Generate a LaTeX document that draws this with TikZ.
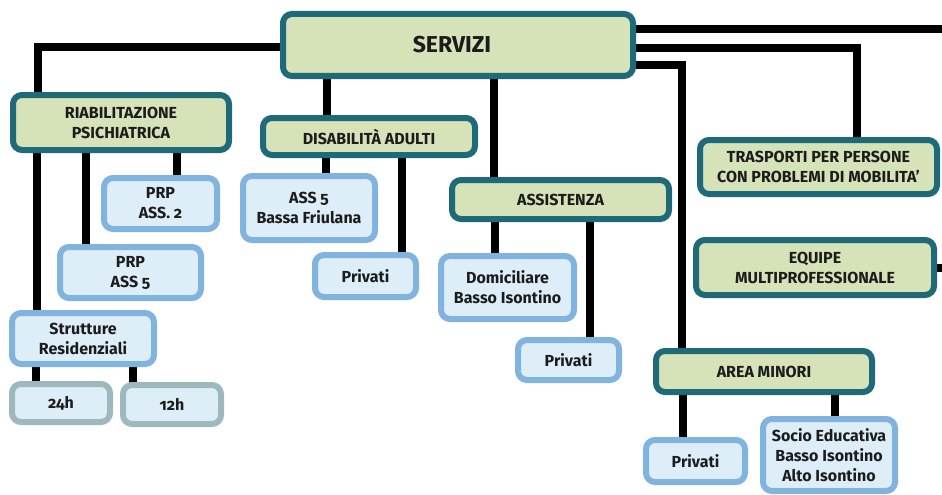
\documentclass[tikz,border=0pt]{standalone}
\usepackage{fontspec}
\setmainfont{Fira Sans}[Numbers=OldStyle]
\usetikzlibrary{backgrounds}
\definecolor{tealb}{HTML}{1E6A78}
\definecolor{greenf}{HTML}{D6E2B8}
\definecolor{blueb}{HTML}{80B3DD}
\definecolor{bluef}{HTML}{DEEEF9}
\definecolor{greyb}{HTML}{9DB9BE}
\definecolor{txt}{HTML}{1C1C1C}
\tikzset{
  base/.style={rectangle, rounded corners=9pt, line width=6pt, outer sep=0pt, inner sep=0pt, align=center, text=txt, font=\bfseries\fontsize{16}{20}\selectfont},
  gbox/.style={base, draw=tealb, fill=greenf},
  bbox/.style={base, draw=blueb, fill=bluef},
  ybox/.style={base, draw=greyb, fill=bluef},
  conn/.style={line width=8pt, draw=black},
}
\newcommand{\bx}[7]{\node[#1, minimum width=#5pt-6pt, minimum height=#6pt-6pt] (#2) at (#3,#4) {#7};}
\begin{document}
\begin{tikzpicture}[x=1pt,y=-1pt]
\useasboundingbox (0,0) rectangle (942,495);
% green boxes
\bx{gbox}{serv}{458}{45}{356}{68}{\fontsize{23}{26}\selectfont\hspace*{-12pt}\raisebox{-4pt}{SERVIZI}}
\bx{gbox}{riab}{121}{122.5}{222}{61}{RIABILITAZIONE\\PSICHIATRICA}
\bx{gbox}{disab}{369}{136.5}{218}{43}{DISABILITÀ ADULTI}
\bx{gbox}{assist}{560.5}{199.5}{223}{45}{ASSISTENZA}
\bx{gbox}{trasp}{818.5}{167}{243}{60}{TRASPORTI PER PERSONE\\CON PROBLEMI DI MOBILITA’}
\bx{gbox}{equipe}{815}{267.5}{244}{61}{EQUIPE\\MULTIPROFESSIONALE}
\bx{gbox}{minori}{764}{371.5}{222}{47}{AREA MINORI}
% blue boxes
\bx{bbox}{prp2}{160.5}{203.5}{119}{57}{PRP\\ASS. 2}
\bx{bbox}{prp5}{130.5}{272.5}{147}{57}{PRP\\ASS 5}
\bx{bbox}{strutt}{83}{338.5}{148}{57}{Strutture\\Residenziali}
\bx{ybox}{h24}{61}{403}{104}{44}{24h}
\bx{ybox}{h12}{172}{404.5}{104}{45}{12h}
\bx{bbox}{ass5}{309}{208}{138}{70}{ASS 5\\Bassa Friulana}
\bx{bbox}{priv1}{365.5}{276}{107}{48}{Privati}
\bx{bbox}{domic}{507.5}{287.5}{139}{69}{Domiciliare\\Basso Isontino}
\bx{bbox}{priv2}{568.5}{360}{107}{46}{Privati}
\bx{bbox}{priv3}{695.5}{461}{105}{48}{Privati}
\bx{bbox}{socio}{829}{455}{138}{78}{Socio Educativa\\Basso Isontino\\Alto Isontino}
\coordinate (edgeA) at (942,29);
\coordinate (edgeB) at (942,268);
\begin{pgfonlayer}{background}
\draw[conn] (serv.west |- 0,47) -| (riab.north -| 38,0);
\draw[conn] (riab.south -| 37,0) -- (strutt.north -| 37,0);
\draw[conn] (riab.south -| 86,0) -- (prp5.north -| 86,0);
\draw[conn] (riab.south -| 177,0) -- (prp2.north -| 177,0);
\draw[conn] (serv.south -| 327,0) -- (disab.north -| 327,0);
\draw[conn] (disab.south -| 326,0) -- (ass5.north -| 326,0);
\draw[conn] (disab.south -| 402,0) -- (priv1.north -| 402,0);
\draw[conn] (serv.south -| 494,0) -- (assist.north -| 494,0);
\draw[conn] (assist.south -| 495,0) -- (domic.north -| 495,0);
\draw[conn] (assist.south -| 590,0) -- (priv2.north -| 590,0);
\draw[conn] (serv.east |- edgeA) -- (edgeA);
\draw[conn] (serv.east |- 0,48) -| (trasp.north -| 857,0);
\draw[conn] (serv.east |- 0,65) -| (minori.north -| 682,0);
\draw[conn] (equipe.east |- edgeB) -- (edgeB);
\draw[conn] (minori.south -| 683,0) -- (priv3.north -| 683,0);
\draw[conn] (minori.south -| 835,0) -- (socio.north -| 835,0);
\draw[conn] (strutt.south -| 36,0) -- (h24.north -| 36,0);
\draw[conn] (strutt.south -| 133,0) -- (h12.north -| 133,0);
\end{pgfonlayer}
\end{tikzpicture}
\end{document}
